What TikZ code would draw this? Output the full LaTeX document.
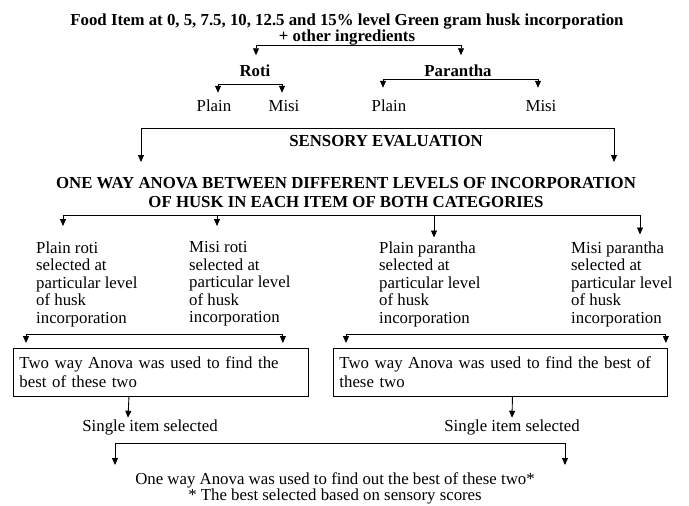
\documentclass[tikz,border=0pt]{standalone}
\usepackage{fontspec}
\setmainfont{Liberation Serif}
\usetikzlibrary{arrows.meta,positioning}

\tikzset{
  every node/.style={inner sep=0pt, font=\fontsize{16.8}{19}\selectfont},
  txt/.style={text height=11.5pt, text depth=3.6pt},
  bold/.style={font=\fontsize{16.8}{19}\selectfont\bfseries},
  note/.style={align=left, anchor=north west, font=\fontsize{16.8}{17.5}\selectfont},
  box/.style={draw, line width=0.9pt, align=left, anchor=north west, minimum height=48pt, inner xsep=6pt},
  arr/.style={-{Triangle[length=7pt,width=6pt]}, line width=0.9pt},
  darr/.style={{Triangle[length=7pt,width=6pt]}-{Triangle[length=7pt,width=6pt]}, line width=0.9pt},
}

\begin{document}
\begin{tikzpicture}[x=1pt,y=-1pt,on grid]
 \useasboundingbox (0,0) rectangle (689,506);

 % top of the chart
 \node[align=center, anchor=north, font=\fontsize{16.8}{15}\selectfont\bfseries] (food) at (347,13.5)
   {Food Item at 0, 5, 7.5, 10, 12.5 and 15\% level Green gram husk incorporation\\+ other ingredients};
 \node[bold,txt] (roti) at (255,73) {Roti};
 \node[bold,txt] (parantha) [right=203pt of roti] {Parantha};
 \node[txt] (rplain) at (214,108) {Plain};
 \node[txt] (rmisi) [right=70pt of rplain] {Misi};
 \node[txt] (pplain) [right=175pt of rplain] {Plain};
 \node[txt] (pmisi) [right=152pt of pplain] {Misi};

 \draw[darr] ([xshift=1pt,yshift=10pt]roti.north) |- (food.south) -| ([xshift=3pt,yshift=10pt]parantha.north);
 \draw[darr] ([xshift=4pt,yshift=7.5pt]rplain.north) |- ([yshift=-3.4pt]roti.south) -| ([xshift=-2pt,yshift=7.5pt]rmisi.north);
 \draw[darr] ([xshift=-6pt,yshift=12.5pt]pplain.north) |- ([yshift=1.6pt]parantha.south) -| ([xshift=-3pt,yshift=12.5pt]pmisi.north);

 % evaluation
 \node[bold,txt] (sense) at (386,143) {SENSORY EVALUATION};
 \node[bold, align=center, anchor=north] (anova) at (346,177)
   {ONE WAY ANOVA BETWEEN DIFFERENT LEVELS OF INCORPORATION\\OF HUSK IN EACH ITEM OF BOTH CATEGORIES};
 \draw[darr] ([xshift=-205pt,yshift=15pt]anova.north) |- ([yshift=6.5pt]sense.north) -| ([xshift=268pt,yshift=15pt]anova.north);

 % items selected
 \node[note] (proti) at (36,241.5) {Plain roti\\selected at\\particular level\\of husk\\incorporation};
 \node[note] (mroti) at (189,241.5) {Misi roti\\selected at\\particular level\\of husk\\incorporation};
 \node[note] (pparan) at (379,241.5) {Plain parantha\\selected at\\particular level\\of husk\\incorporation};
 \node[note] (mparan) at (571,241.5) {Misi parantha\\selected at\\particular level\\of husk\\incorporation};

 \coordinate (fork) at ([yshift=-8pt]anova.south);
 \coordinate (t1) at ([xshift=27pt,yshift=15.5pt]proti.north west);
 \coordinate (t2) at ([xshift=28pt,yshift=15.5pt]mroti.north west);
 \coordinate (t3) at ([xshift=55pt,yshift=4pt]pparan.north west);
 \coordinate (t4) at ([xshift=69pt,yshift=7pt]mparan.north west);
 \draw[darr] (t1) |- (fork) -| (t4);
 \draw[arr] (t2 |- fork) -- (t2);
 \draw[arr] (t3 |- fork) -- (t3);

 % two way anova
 \node[box, text width=283pt] (lbox) at (13,348) {Two way Anova was used to find the\\best of these two};
 \node[box, text width=322pt] (rbox) at (333,348) {Two way Anova was used to find the best of\\these two};
 \draw[darr] ([xshift=13pt,yshift=5pt]lbox.north west) |- ([yshift=-7pt]proti.south) -| ([xshift=-26pt,yshift=5pt]lbox.north east);
 \draw[darr] ([xshift=13pt,yshift=5pt]rbox.north west) |- ([yshift=-7pt]pparan.south) -| ([xshift=-2pt,yshift=5pt]rbox.north east);

 % final choice
 \node[txt] (lsingle) at (150,428) {Single item selected};
 \node[txt] (rsingle) [right=362pt of lsingle] {Single item selected};
 \draw[arr] ([xshift=-32pt]lbox.south) -- ([xshift=-22pt,yshift=2.5pt]lsingle.north);
 \draw[arr] ([xshift=12pt]rbox.south) -- ([yshift=2.5pt]rsingle.north);

 \node[align=center, anchor=north, font=\fontsize{16.8}{16}\selectfont] (best) at (335,472.5)
   {One way Anova was used to find out the best of these two*\\* The best selected based on sensory scores};
 \draw[darr] ([xshift=-220pt,yshift=7.5pt]best.north) |- ([yshift=-7.4pt]lsingle.south) -| ([xshift=230pt,yshift=7.5pt]best.north);
\end{tikzpicture}
\end{document}
